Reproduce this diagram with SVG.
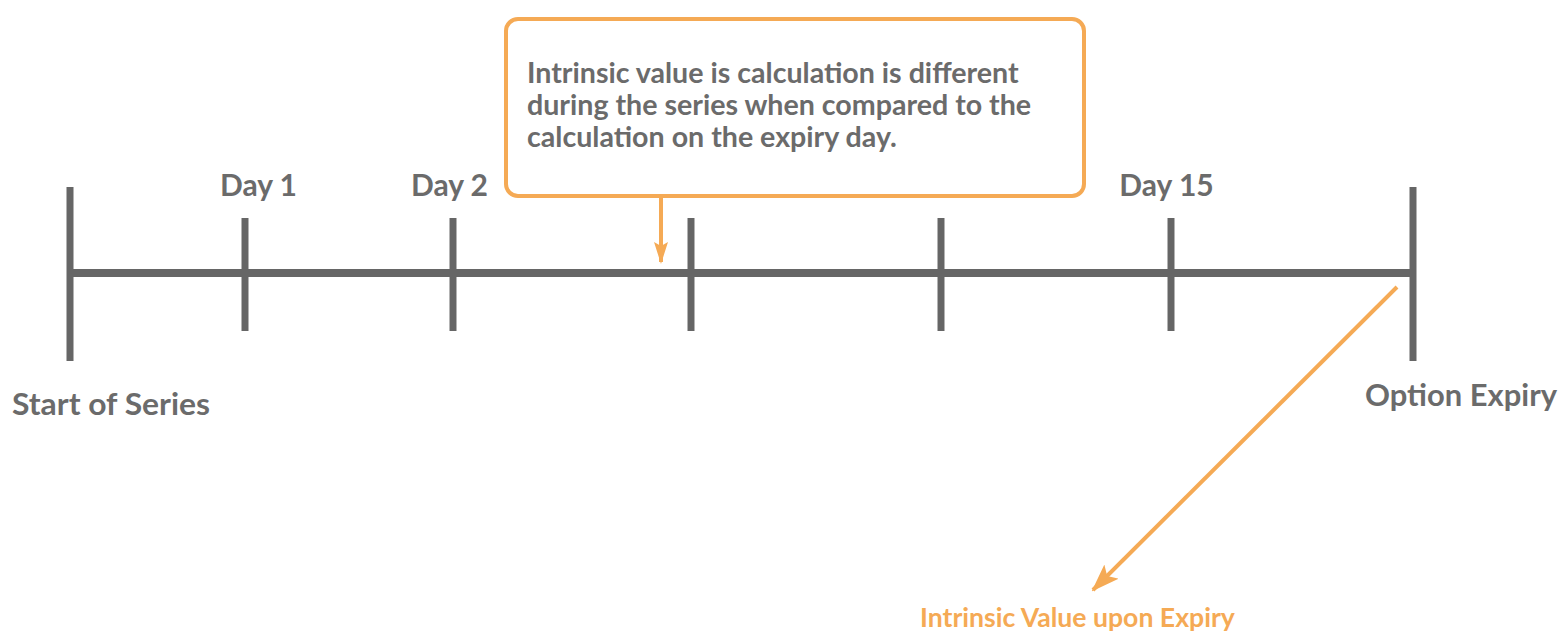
<svg xmlns="http://www.w3.org/2000/svg" width="1561" height="636" viewBox="0 0 1561 636">
<style>
.t{font-family:Lato,"Open Sans","Noto Sans",sans-serif;font-weight:bold;fill:#6b6b6b;font-size:30px}
.c{font-size:28.6px}
.o{fill:#f5aa55;font-size:26.6px}
.ax{stroke:#666;stroke-width:8;fill:none}
.tk{stroke:#666;stroke-width:7;fill:none}
.or{stroke:#f5aa55;stroke-width:4;fill:none}
</style>
<defs>
<marker id="ah" markerWidth="22" markerHeight="14" refX="20" refY="7" orient="auto" markerUnits="userSpaceOnUse" viewBox="0 0 22 14">
<path d="M0,0 L22,7 L0,14 L4,7 z" fill="#f5aa55"/>
</marker>
<marker id="ah2" markerWidth="28" markerHeight="20" refX="26" refY="10" orient="auto" markerUnits="userSpaceOnUse" viewBox="0 0 28 20">
<path d="M0,0 L28,10 L0,20 L6,10 z" fill="#f5aa55"/>
</marker>
</defs>
<rect width="1561" height="636" fill="#fff"/>
<g id="timeline">
<line class="ax" x1="70" y1="273" x2="1413" y2="273"/>
<line class="tk" x1="70" y1="187" x2="70" y2="361" stroke-width="8"/>
<line class="tk" x1="1413" y1="187" x2="1413" y2="361" stroke-width="8"/>
<line class="tk" x1="245" y1="218" x2="245" y2="331"/>
<line class="tk" x1="453" y1="218" x2="453" y2="331"/>
<line class="tk" x1="691" y1="218" x2="691" y2="331"/>
<line class="tk" x1="941" y1="218" x2="941" y2="331"/>
<line class="tk" x1="1171" y1="218" x2="1171" y2="331"/>
</g>
<g id="labels">
<text class="t" x="258.5" y="196" text-anchor="middle">Day 1</text>
<text class="t" x="449.5" y="196" text-anchor="middle">Day 2</text>
<text class="t" x="1166.5" y="196" text-anchor="middle">Day 15</text>
<text class="t" x="12" y="415" textLength="198" lengthAdjust="spacingAndGlyphs">Start of Series</text>
<text class="t" x="1365" y="406" textLength="192" lengthAdjust="spacingAndGlyphs">Option Expiry</text>
</g>
<g id="callout">
<rect x="506" y="19" width="578" height="177" rx="12" fill="#fff" stroke="#f5aa55" stroke-width="4"/>
<text class="t c" x="527" y="83">Intrinsic value is calculation is different</text>
<text class="t c" x="527" y="115">during the series when compared to the</text>
<text class="t c" x="527" y="147">calculation on the expiry day.</text>
</g>
<g id="result">
<text class="t o" x="920" y="627">Intrinsic Value upon Expiry</text>
</g>
<g id="connectors">
<line class="or" x1="661" y1="197" x2="661" y2="262" marker-end="url(#ah)"/>
<line class="or" x1="1397" y1="287" x2="1093" y2="590" marker-end="url(#ah2)" stroke-width="5"/>
</g>
</svg>
